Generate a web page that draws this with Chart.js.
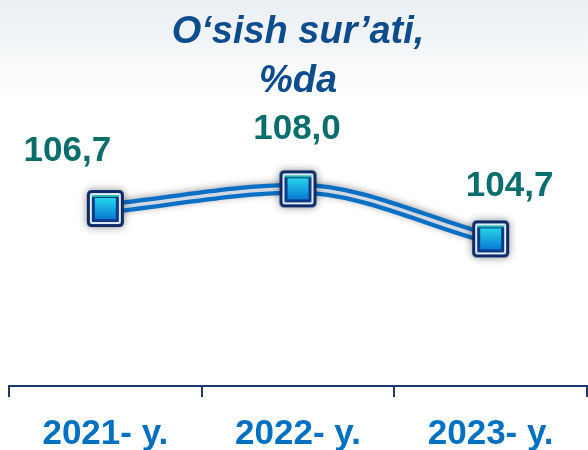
<!DOCTYPE html>
<html><head><meta charset="utf-8">
<script src="https://cdn.jsdelivr.net/npm/chart.js@4/dist/chart.umd.min.js"></script>
<style>html,body{margin:0;padding:0;background:#fff;overflow:hidden}</style>
</head><body>
<canvas id="c" width="588" height="450"></canvas>
<script>
const categories = ['2021- y.', '2022- y.', '2023- y.'];
const growthValues = [106.7, 108.0, 104.7];
const valueLabels = ['106,7', '108,0', '104,7'];
const titleLines = ['O‘sish sur’ati,', '%da'];
const labelOffsets = [[-38, -57], [-1, -59], [19, -53]];

const FONT = '"Liberation Sans", Arial, sans-serif';

function rr(g, x, y, w, h, r) {
  g.beginPath();
  g.moveTo(x + r, y);
  g.lineTo(x + w - r, y); g.quadraticCurveTo(x + w, y, x + w, y + r);
  g.lineTo(x + w, y + h - r); g.quadraticCurveTo(x + w, y + h, x + w - r, y + h);
  g.lineTo(x + r, y + h); g.quadraticCurveTo(x, y + h, x, y + h - r);
  g.lineTo(x, y + r); g.quadraticCurveTo(x, y, x + r, y);
  g.closePath();
}

function makeMarker() {
  const pad = 10, s = 37;
  const c = document.createElement('canvas');
  c.width = c.height = s + 2 * pad;
  const g = c.getContext('2d');
  g.save();
  g.shadowColor = 'rgba(0,0,0,0.45)';
  g.shadowBlur = 9;
  g.fillStyle = '#0C2A6A';
  rr(g, pad, pad, s, s, 5); g.fill();
  g.restore();
  g.fillStyle = '#E4ECF3';
  rr(g, pad + 3, pad + 3, s - 6, s - 6, 2); g.fill();
  g.fillStyle = '#0A3A8A';
  rr(g, pad + 5, pad + 5, s - 10, s - 10, 1); g.fill();
  g.fillStyle = '#20B8B0';
  g.fillRect(pad + 5, pad + 5, s - 10, 2);
  const grd = g.createLinearGradient(0, pad + 8, 0, pad + s - 8);
  grd.addColorStop(0, '#25D6E8');
  grd.addColorStop(1, '#0A78D6');
  g.fillStyle = grd;
  g.fillRect(pad + 8, pad + 8, s - 16, s - 16);
  return c;
}
const marker = makeMarker();

const bgPlugin = {
  id: 'bg',
  beforeDraw(chart) {
    const ctx = chart.ctx;
    const grd = ctx.createLinearGradient(0, 0, 0, 100);
    grd.addColorStop(0, '#EAEFF3');
    grd.addColorStop(1, '#FFFFFF');
    ctx.save();
    ctx.fillStyle = grd;
    ctx.fillRect(0, 0, chart.width, chart.height);
    ctx.restore();
  }
};

const shadowPlugin = {
  id: 'lineShadow',
  beforeDatasetDraw(chart, args) {
    if (args.index === 1) {
      const ctx = chart.ctx;
      ctx.save();
      ctx.shadowColor = 'rgba(0,0,0,0.35)';
      ctx.shadowBlur = 7;
      ctx.shadowOffsetY = -1;
    }
  },
  afterDatasetDraw(chart, args) {
    if (args.index === 1) chart.ctx.restore();
  }
};

const labelPlugin = {
  id: 'valueLabels',
  afterDatasetsDraw(chart) {
    const meta = chart.getDatasetMeta(0);
    const ctx = chart.ctx;
    ctx.save();
    ctx.font = 'bold 35px ' + FONT;
    ctx.fillStyle = '#0A6E6C';
    ctx.textAlign = 'center';
    ctx.textBaseline = 'middle';
    meta.data.forEach((pt, i) => {
      ctx.fillText(valueLabels[i], pt.x + labelOffsets[i][0], pt.y + labelOffsets[i][1]);
    });
    ctx.restore();
  }
};

new Chart(document.getElementById('c'), {
  type: 'line',
  data: {
    labels: categories,
    datasets: [
      {
        data: growthValues,
        borderColor: '#D3D8E0',
        borderWidth: 3.5,
        cubicInterpolationMode: 'monotone',
        pointStyle: marker,
        pointRadius: 18,
        clip: false,
        fill: false
      },
      {
        data: growthValues,
        borderColor: '#0A70C6',
        borderWidth: 12,
        cubicInterpolationMode: 'monotone',
        pointRadius: 0,
        clip: false,
        fill: false
      }
    ]
  },
  options: {
    responsive: false,
    devicePixelRatio: 1,
    animation: false,
    layout: { autoPadding: false, padding: { left: 9, right: 1, top: 0, bottom: 0 } },
    plugins: {
      legend: { display: false },
      tooltip: { enabled: false },
      title: {
        display: true,
        text: titleLines,
        color: '#0E4D8D',
        font: { family: FONT, size: 38, weight: 'bold', style: 'italic', lineHeight: 1.29 },
        padding: { top: 8, bottom: 10 }
      }
    },
    scales: {
      y: { display: false, min: 95, max: 112.8 },
      x: {
        offset: true,
        afterFit(scale) {
          scale.paddingLeft = 0;
          scale.paddingRight = 0;
          scale.height = 64;
        },
        grid: {
          display: true, drawOnChartArea: false, drawTicks: true,
          tickLength: 11, color: '#1F3A6E', lineWidth: 2, offset: true
        },
        border: { display: true, color: '#1F3A6E', width: 2 },
        ticks: {
          color: '#0070C0',
          font: { family: FONT, size: 35, weight: 'bold', lineHeight: 1.1 },
          padding: 18, maxRotation: 0, autoSkip: false
        }
      }
    }
  },
  plugins: [bgPlugin, shadowPlugin, labelPlugin]
});
</script>
</body></html>
